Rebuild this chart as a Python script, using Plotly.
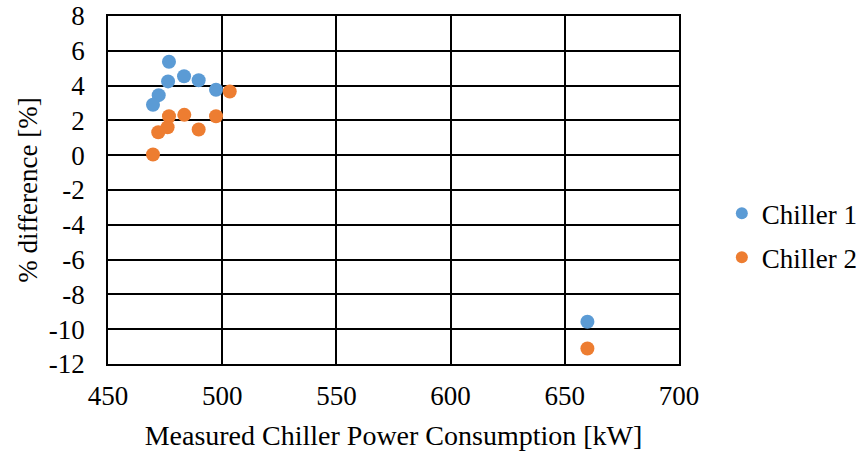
import plotly.graph_objects as go

# Measured chiller power [kW] and % difference [%]
chiller1_power = [476.7, 476.3, 483.3, 489.7, 497.3, 472.2, 469.7, 659.9]
chiller1_diff = [5.37, 4.24, 4.54, 4.31, 3.76, 3.45, 2.90, -9.57]

chiller2_power = [503.3, 476.7, 483.4, 497.3, 476.1, 472.0, 489.7, 469.7, 659.9]
chiller2_diff = [3.66, 2.24, 2.32, 2.24, 1.61, 1.32, 1.48, 0.04, -11.11]

x_ticks = [450, 500, 550, 600, 650, 700]
y_ticks = [8, 6, 4, 2, 0, -2, -4, -6, -8, -10, -12]

FONT = "Liberation Serif, Times New Roman, serif"
FS = 27


def serif(size=FS):
    return dict(family=FONT, size=size, color="black")


fig = go.Figure()
fig.add_trace(go.Scatter(
    x=chiller1_power, y=chiller1_diff, mode="markers", name="Chiller 1",
    legendgroup="c1", marker=dict(color="#5B9BD5", size=14),
))
fig.add_trace(go.Scatter(
    x=chiller2_power, y=chiller2_diff, mode="markers", name="Chiller 2",
    legendgroup="c2", marker=dict(color="#ED7D31", size=14),
))

axis_common = dict(
    showgrid=True, gridcolor="black", gridwidth=1.5, zeroline=False,
    showline=True, linecolor="black", linewidth=1.5, mirror=True,
    tickcolor="rgba(0,0,0,0)", ticks="outside",
    tickfont=serif(), automargin=False,
)

fig.update_layout(
    width=865, height=455,
    margin=dict(l=108, r=186, t=16, b=91, autoexpand=False),
    paper_bgcolor="white", plot_bgcolor="white",
    font=serif(),
    showlegend=True,
    legend=dict(
        x=1.075, y=0.369, xanchor="left", yanchor="middle",
        font=serif(), itemsizing="constant", tracegroupgap=6,
        traceorder="grouped", bgcolor="rgba(0,0,0,0)",
    ),
    xaxis=dict(
        range=[450, 700], tickvals=x_ticks, ticktext=[str(v) for v in x_ticks],
        ticklen=7,
        title=dict(text="Measured Chiller Power Consumption [kW]",
                   font=serif(28), standoff=15),
        **axis_common,
    ),
    yaxis=dict(
        range=[-12, 8], tickvals=y_ticks, ticktext=[str(v) for v in y_ticks],
        ticklen=16,
        title=dict(text="% difference [%]", font=serif(), standoff=3),
        **axis_common,
    ),
)

fig.write_html("out.html")
